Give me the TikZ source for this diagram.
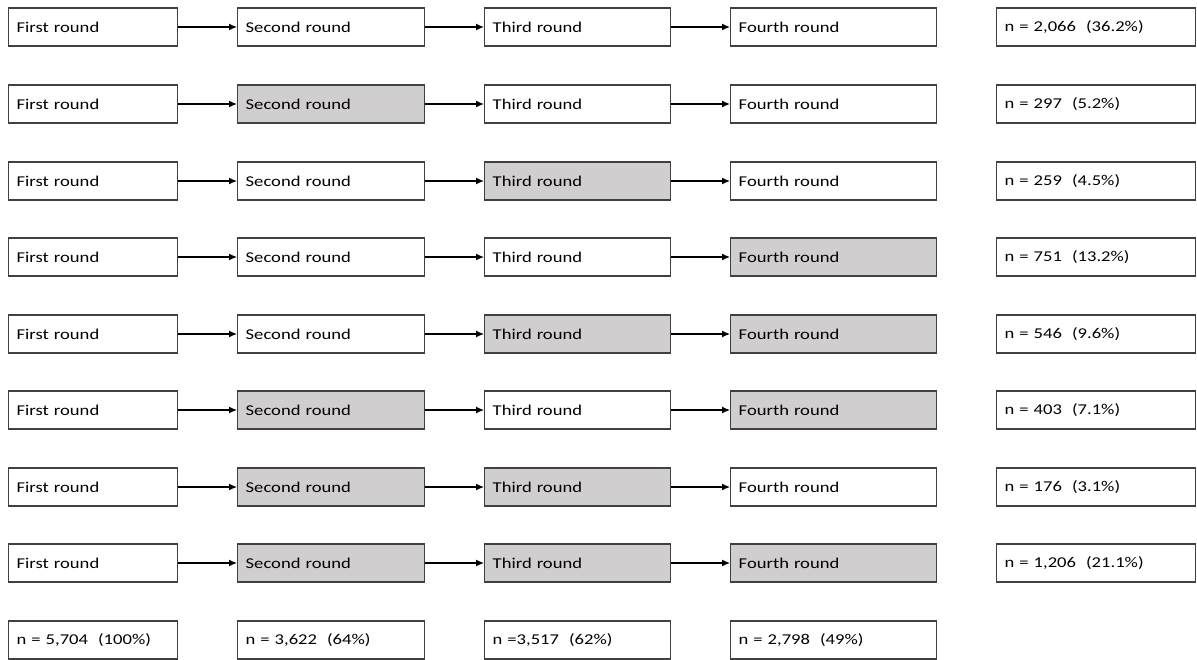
\documentclass[tikz,border=0pt]{standalone}
\usepackage{fontspec}
\setmainfont{Carlito}[FakeStretch=1.24]
\usetikzlibrary{arrows.meta}
\definecolor{boxedge}{HTML}{404040}
\definecolor{boxgray}{HTML}{D0CECE}
\tikzset{
  rbox/.style={draw=boxedge, line width=1.4pt, fill=white, anchor=west,
    minimum height=38pt, minimum width=#1, text width=#1-16pt,
    inner xsep=8pt, align=left, font=\fontsize{15}{18}\selectfont},
  shaded/.style={fill=boxgray},
  plain/.style={},
  flow/.style={-{Latex[length=8pt,width=7pt]}, line width=1.2pt, black}
}
\begin{document}
\begin{tikzpicture}[x=1pt,y=-1pt]
\useasboundingbox (0,0) rectangle (1197,659);
% column left edges and widths
\def\colAx{8}\def\colAw{169pt}
\def\colBx{237}\def\colBw{187pt}
\def\colCx{484}\def\colCw{186pt}
\def\colDx{730}\def\colDw{206pt}
\def\colEx{996}\def\colEw{199pt}
\foreach \r/\y/\fb/\fc/\fd/\n in {
  1/27/plain/plain/plain/{n = 2,066\ \ (36.2\%)},
  2/104/shaded/plain/plain/{n = 297\ \ (5.2\%)},
  3/181/plain/shaded/plain/{n = 259\ \ (4.5\%)},
  4/257/plain/plain/shaded/{n = 751\ \ (13.2\%)},
  5/334/plain/shaded/shaded/{n = 546\ \ (9.6\%)},
  6/410/shaded/plain/shaded/{n = 403\ \ (7.1\%)},
  7/487/shaded/shaded/plain/{n = 176\ \ (3.1\%)},
  8/563/shaded/shaded/shaded/{n = 1,206\ \ (21.1\%)}}{
  \node[rbox=\colAw] (a\r) at (\colAx,\y) {First round};
  \node[rbox=\colBw, \fb] (b\r) at (\colBx,\y) {Second round};
  \node[rbox=\colCw, \fc] (c\r) at (\colCx,\y) {Third round};
  \node[rbox=\colDw, \fd] (d\r) at (\colDx,\y) {Fourth round};
  \node[rbox=\colEw] (e\r) at (\colEx,\y) {\n};
  \draw[flow] (a\r) -- (b\r);
  \draw[flow] (b\r) -- (c\r);
  \draw[flow] (c\r) -- (d\r);
}
% totals per round
\node[rbox=\colAw] (ta) at (\colAx,640) {n = 5,704\ \ (100\%)};
\node[rbox=\colBw] (tb) at (\colBx,640) {n = 3,622\ \ (64\%)};
\node[rbox=\colCw] (tc) at (\colCx,640) {n =3,517\ \ (62\%)};
\node[rbox=\colDw] (td) at (\colDx,640) {n = 2,798\ \ (49\%)};
\end{tikzpicture}
\end{document}
